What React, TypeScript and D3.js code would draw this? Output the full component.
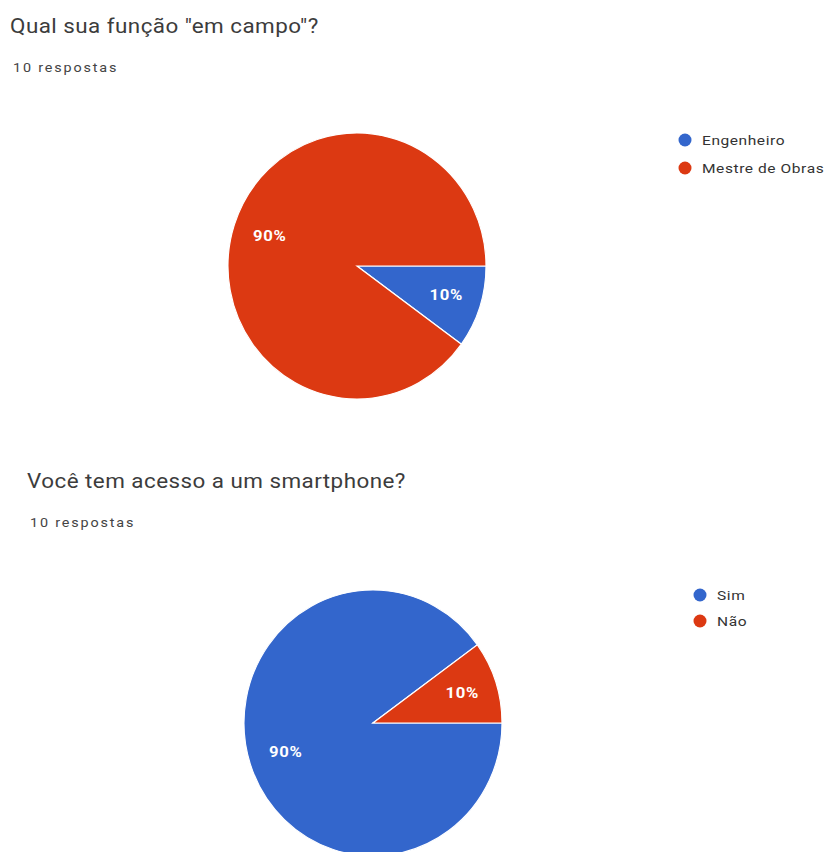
import * as d3 from "d3";

// chart 1
const title1 = 'Qual sua função "em campo"?';
const labels1 = ["Engenheiro", "Mestre de Obras"];
const values1 = [1, 9];

// chart 2
const title2 = "Você tem acesso a um smartphone?";
const labels2 = ["Sim", "Não"];
const values2 = [9, 1];

const subtitle = "10 respostas";
const colors = ["#3366cc", "#dc3912"];

// the screenshot is a bit stretched sideways, so text is too
const SX = 1.15;

type PieProps = {
  title: string;
  labels: string[];
  values: number[];
  x0: number;
  y0: number;
  cx: number;
  cy: number;
  legendX: number;
  legendY: number;
  legendStep: number;
};

const Pie = ({ title, labels, values, x0, y0, cx, cy, legendX, legendY, legendStep }: PieProps) => {
  const ry = 133;
  const rx = 129;
  const pie = d3
    .pie<number>()
    .sort(null)
    .startAngle(Math.PI / 2)
    .endAngle(Math.PI / 2 + 2 * Math.PI);
  const arcs = pie(values);
  const arc = d3.arc<d3.PieArcDatum<number>>().innerRadius(0).outerRadius(ry);
  const labelArc = d3
    .arc<d3.PieArcDatum<number>>()
    .innerRadius(ry * 0.72)
    .outerRadius(ry * 0.72);
  const total = d3.sum(values);

  return (
    <g fontFamily="Roboto">
      <g transform={`translate(${x0},${y0}) scale(${SX},1)`}>
        <text fontSize={19.5} letterSpacing={0.4} fill="#3c3c3c">
          {title}
        </text>
      </g>
      <g transform={`translate(${x0 + 3},${y0 + 39}) scale(${SX},1)`}>
        <text fontSize={12.5} letterSpacing={1.6} fill="#444">
          {subtitle}
        </text>
      </g>
      <g transform={`translate(${cx},${cy}) scale(${rx / ry},1)`}>
        {arcs.map((a, i) => (
          <path key={i} d={arc(a) ?? ""} fill={colors[i]} stroke="#fff" strokeWidth={1.2} />
        ))}
      </g>
      {arcs.map((a, i) => {
        const [lx, ly] = labelArc.centroid(a);
        return (
          <g key={i} transform={`translate(${cx + lx * (rx / ry) + 1},${cy + ly}) scale(${SX},1)`}>
            <text
              fontSize={14.5}
              letterSpacing={0.6}
              fontWeight="bold"
              fill="#fff"
              textAnchor="middle"
              dominantBaseline="central"
            >
              {`${Math.round((a.value / total) * 100)}%`}
            </text>
          </g>
        );
      })}
      {labels.map((l, i) => (
        <g key={l} transform={`translate(${legendX},${legendY + i * legendStep})`}>
          <circle r={6.5} fill={colors[i]} />
          <g transform={`translate(17,0) scale(${SX},1)`}>
            <text dy="0.35em" fontSize={13.5} letterSpacing={0.5} fill="#333">
              {l}
            </text>
          </g>
        </g>
      ))}
    </g>
  );
};

export default function App() {
  return (
    <div style={{ position: "absolute", left: 0, top: 0, background: "#fff" }}>
      <svg width={833} height={852} style={{ display: "block" }}>
        <rect width={833} height={852} fill="#fff" />
        <Pie
          title={title1}
          labels={labels1}
          values={values1}
          x0={10}
          y0={33}
          cx={357}
          cy={266}
          legendX={685}
          legendY={140}
          legendStep={28}
        />
        <Pie
          title={title2}
          labels={labels2}
          values={values2}
          x0={27}
          y0={488}
          cx={373}
          cy={723}
          legendX={700}
          legendY={595}
          legendStep={26}
        />
      </svg>
    </div>
  );
}
